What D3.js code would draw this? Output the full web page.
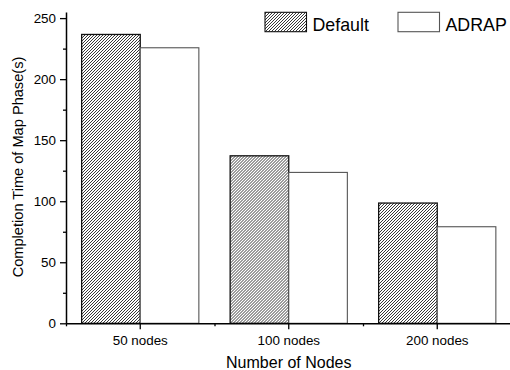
<!DOCTYPE html>
<html>
<head>
<meta charset="utf-8">
<script src="https://cdn.jsdelivr.net/npm/d3@7"></script>
<style>
  html, body { margin: 0; padding: 0; background: #fff; }
  svg { display: block; font-family: "Liberation Sans", Arial, sans-serif; }
</style>
</head>
<body>
<div id="chart"></div>
<script>
// data
const categories = ["50 nodes", "100 nodes", "200 nodes"];
const seriesNames = ["Default", "ADRAP"];
const defaultTimes = [236.6, 137.2, 98.5];
const adrapTimes = [225.7, 123.6, 79.1];
const yTicks = [0, 50, 100, 150, 200, 250];
const yMinorTicks = [25, 75, 125, 175, 225];

const W = 510, H = 370;
const plotLeft = 66, plotRight = 511.5, plotTop = 12, plotBottom = 323.3;

const svg = d3.select("#chart")
  .append("svg")
  .attr("width", W)
  .attr("height", H);

// hatch pattern for Default
const defs = svg.append("defs");
const pat = defs.append("pattern")
  .attr("id", "hatch")
  .attr("patternUnits", "userSpaceOnUse")
  .attr("width", 3)
  .attr("height", 3);
pat.append("rect").attr("width", 3).attr("height", 3).attr("fill", "#fff");
pat.append("path")
  .attr("d", "M-1,1 l2,-2 M0,3 l3,-3 M2,4 l2,-2")
  .attr("stroke", "#222")
  .attr("stroke-width", 0.9);

const x0 = d3.scaleBand()
  .domain(categories)
  .range([plotLeft, plotRight])
  .padding(0);

const x1 = d3.scaleBand()
  .domain(seriesNames)
  .range([0, x0.bandwidth()])
  .paddingInner(0)
  .paddingOuter(0.267);

const xBound = d3.scaleLinear()
  .domain([0, categories.length])
  .range([plotLeft, plotRight]);

const y = d3.scaleLinear()
  .domain([0, 255])
  .range([plotBottom, plotTop]);

const rows = categories.map((c, i) => ({
  cat: c,
  values: [
    { key: "Default", v: defaultTimes[i] },
    { key: "ADRAP", v: adrapTimes[i] }
  ]
}));

// Bars
const groups = svg.selectAll("g.grp")
  .data(rows)
  .enter()
  .append("g")
  .attr("class", "grp")
  .attr("transform", d => `translate(${x0(d.cat)},0)`);

groups.selectAll("rect")
  .data(d => d.values)
  .enter()
  .append("rect")
  .attr("x", d => x1(d.key))
  .attr("y", d => y(d.v))
  .attr("width", x1.bandwidth())
  .attr("height", d => y(0) - y(d.v))
  .attr("fill", d => d.key === "Default" ? "url(#hatch)" : "#fff")
  .attr("stroke", d => d.key === "Default" ? "#111" : "#555")
  .attr("stroke-width", d => d.key === "Default" ? 1.3 : 1.1);

// Axes
const fontTick = "13.4px";

svg.append("g")
  .attr("transform", `translate(${plotLeft},0)`)
  .call(d3.axisLeft(y).tickValues(yTicks).tickSize(6).tickPadding(4).tickSizeOuter(0));
svg.append("g")
  .attr("transform", `translate(${plotLeft},0)`)
  .call(d3.axisLeft(y).tickValues(yMinorTicks).tickSize(3).tickFormat("").tickSizeOuter(0))
  .select(".domain").remove();

svg.append("g")
  .attr("transform", `translate(0,${plotBottom})`)
  .call(d3.axisBottom(x0).tickSize(6).tickPadding(6).tickSizeOuter(0));
svg.append("g")
  .attr("transform", `translate(0,${plotBottom})`)
  .call(d3.axisBottom(xBound).tickValues([0, 1, 2, 3]).tickSize(3).tickFormat("").tickSizeOuter(0))
  .select(".domain").remove();

svg.selectAll(".domain").attr("stroke", "#000").attr("stroke-width", 1.5);
svg.selectAll(".tick line").attr("stroke", "#000").attr("stroke-width", 1.3);
svg.selectAll(".tick text")
  .attr("fill", "#000")
  .style("font-size", fontTick)
  .style("font-family", "'Liberation Sans', Arial, sans-serif");

// Axis labels
svg.append("text")
  .attr("text-anchor", "middle")
  .attr("x", (plotLeft + plotRight) / 2)
  .attr("y", 368)
  .style("font-size", "16px")
  .text("Number of Nodes");

svg.append("text")
  .attr("text-anchor", "middle")
  .attr("transform", "rotate(-90)")
  .attr("x", -167)
  .attr("y", 22.5)
  .style("font-size", "14.6px")
  .text("Completion Time of Map Phase(s)");

// Legend
const legend = [
  { key: "Default", x: 265, fill: "url(#hatch)", stroke: "#111" },
  { key: "ADRAP", x: 398, fill: "#fff", stroke: "#555" }
];
const lg = svg.selectAll("g.leg")
  .data(legend)
  .enter()
  .append("g")
  .attr("class", "leg");
lg.append("rect")
  .attr("x", d => d.x)
  .attr("y", 12.3)
  .attr("width", 41.5)
  .attr("height", 19.4)
  .attr("fill", d => d.fill)
  .attr("stroke", d => d.stroke)
  .attr("stroke-width", 1.1);
lg.append("text")
  .attr("x", d => d.x + 47.5)
  .attr("y", 31)
  .style("font-size", "17.8px")
  .text(d => d.key);
</script>
</body>
</html>
